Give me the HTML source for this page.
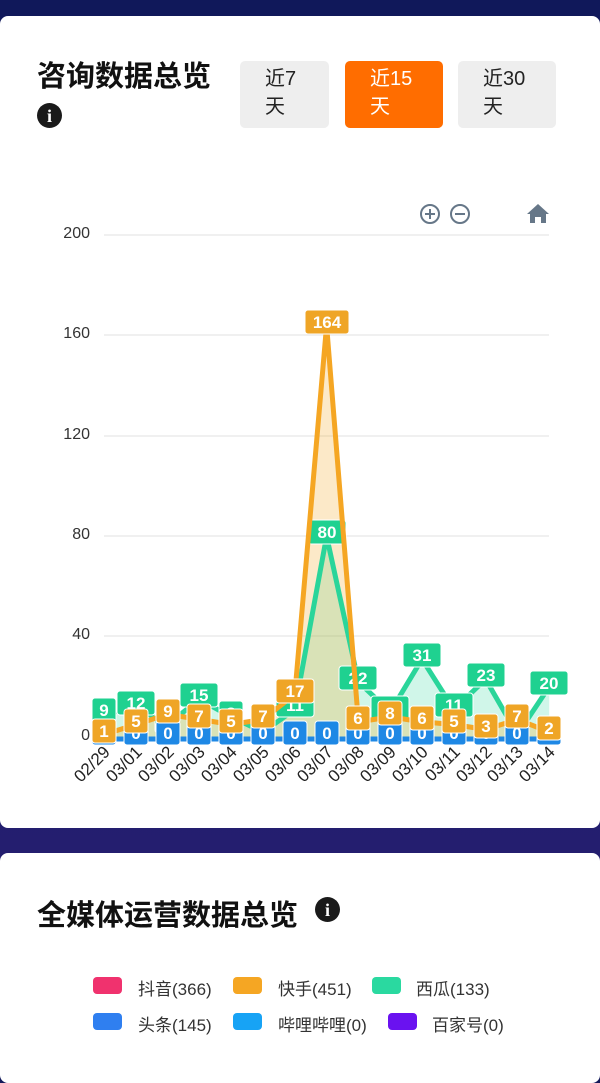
<!DOCTYPE html>
<html><head><meta charset="utf-8"><style>
body{margin:0;width:600px;height:1067px;overflow:hidden;background:#141a5a;font-family:"Liberation Sans","Noto Sans CJK SC",sans-serif;position:relative}
.bg{position:absolute;inset:0;background:linear-gradient(180deg,#10185a 0%,#1e1d6e 60%,#2a2070 100%)}
.card{position:absolute;left:0;width:600px;background:#fff;border-radius:8px}
.t1{position:absolute;left:37px;top:53px;font-size:29px;font-weight:bold;color:#111}
.btn{position:absolute;top:61px;height:67px;border-radius:5px;background:#eee;font-size:20px;color:#222;box-sizing:border-box;padding:4px 0 0 25px;line-height:28px}
.info{position:absolute;width:25px;height:25px;border-radius:50%;background:#1a1a1a;color:#fff;font:bold 18px "Liberation Serif",serif;text-align:center;line-height:26px}
.lg{position:absolute;font-size:17px;color:#333}
.sw{position:absolute;width:29px;height:17px;border-radius:4px}
</style></head><body>
<div class="bg"></div>
<div class="card" style="top:16px;height:812px"></div>
<div class="t1">咨询数据总览</div>
<div class="info" style="left:37px;top:103px">i</div>
<div class="btn" style="left:240px;width:89px">近7<br>天</div>
<div class="btn" style="left:345px;width:98px;background:#ff6d00;color:#fff">近15<br>天</div>
<div class="btn" style="left:458px;width:98px">近30<br>天</div>
<svg style="position:absolute;left:0;top:0" width="600" height="830">
<g fill="none" stroke="#667788" stroke-width="2"><circle cx="430" cy="214" r="9"/><circle cx="460" cy="214" r="9"/><path d="M425 214h10M430 209v10M455 214h10"/></g>
<path d="M538 204l-11 10h3v9h5v-6h6v6h5v-9h3z" fill="#667788"/>
<g stroke="#e0e0e0" stroke-width="1"><path d="M104 235H549M104 335H549M104 436H549M104 536H549M104 636H549M104 737H549"/></g>
<g font-size="16" fill="#333" text-anchor="end"><text x="90" y="238">200</text><text x="90" y="338">160</text><text x="90" y="439">120</text><text x="90" y="539">80</text><text x="90" y="639">40</text><text x="90" y="740">0</text></g>
<polygon fill="rgba(42,213,154,0.22)" points="104,737 104,714.4 135.8,706.9 167.6,724.5 199.4,699.4 231.2,716.9 263,732 294.8,709.4 326.6,536.2 358.4,681.8 390.2,711.9 422,659.2 453.8,709.4 485.6,679.3 517.4,734.5 549.2,686.8 549.2,737"/>
<polygon fill="rgba(245,166,35,0.25)" points="104,737 104,734.5 135.8,724.5 167.6,714.4 199.4,719.4 231.2,724.5 263,719.4 294.8,694.3 326.6,325.4 358.4,721.9 390.2,716.9 422,721.9 453.8,724.5 485.6,729.5 517.4,719.4 549.2,732 549.2,737"/>
<polyline fill="none" stroke="#2ad59a" stroke-width="5" stroke-linejoin="round" points="104,714.4 135.8,706.9 167.6,724.5 199.4,699.4 231.2,716.9 263,732 294.8,709.4 326.6,536.2 358.4,681.8 390.2,711.9 422,659.2 453.8,709.4 485.6,679.3 517.4,734.5 549.2,686.8"/>
<g font-size="17" font-weight="bold" fill="#fff" text-anchor="middle">
<g fill="#1fd190" stroke="#fff" stroke-width="1">
<rect x="92" y="698" width="24" height="24" rx="3"/><rect x="117" y="691" width="38" height="24" rx="3"/><rect x="155" y="709" width="24" height="24" rx="3"/><rect x="180" y="683" width="38" height="24" rx="3"/><rect x="219" y="701" width="24" height="24" rx="3"/><rect x="251" y="716" width="24" height="24" rx="3"/><rect x="276" y="693" width="38" height="24" rx="3"/><rect x="308" y="520" width="38" height="24" rx="3"/><rect x="339" y="666" width="38" height="24" rx="3"/><rect x="371" y="696" width="38" height="24" rx="3"/><rect x="403" y="643" width="38" height="24" rx="3"/><rect x="435" y="693" width="38" height="24" rx="3"/><rect x="467" y="663" width="38" height="24" rx="3"/><rect x="505" y="718" width="24" height="24" rx="3"/><rect x="530" y="671" width="38" height="24" rx="3"/></g>
<text x="104" y="716">9</text><text x="136" y="709">12</text><text x="168" y="727">5</text><text x="199" y="701">15</text><text x="231" y="719">8</text><text x="263" y="734">2</text><text x="295" y="711">11</text><text x="327" y="538">80</text><text x="358" y="684">22</text><text x="390" y="714">10</text><text x="422" y="661">31</text><text x="454" y="711">11</text><text x="486" y="681">23</text><text x="517" y="736">1</text><text x="549" y="689">20</text>
</g>
<path d="M96 739H553" stroke="#1e88e5" stroke-width="5"/>
<g font-size="17" font-weight="bold" fill="#fff" text-anchor="middle">
<g fill="#1e88e5" stroke="#fff" stroke-width="1">
<rect x="92" y="721" width="24" height="24" rx="3"/><rect x="124" y="721" width="24" height="24" rx="3"/><rect x="156" y="721" width="24" height="24" rx="3"/><rect x="187" y="721" width="24" height="24" rx="3"/><rect x="219" y="721" width="24" height="24" rx="3"/><rect x="251" y="721" width="24" height="24" rx="3"/><rect x="283" y="721" width="24" height="24" rx="3"/><rect x="315" y="721" width="24" height="24" rx="3"/><rect x="346" y="721" width="24" height="24" rx="3"/><rect x="378" y="721" width="24" height="24" rx="3"/><rect x="410" y="721" width="24" height="24" rx="3"/><rect x="442" y="721" width="24" height="24" rx="3"/><rect x="474" y="721" width="24" height="24" rx="3"/><rect x="505" y="721" width="24" height="24" rx="3"/><rect x="537" y="721" width="24" height="24" rx="3"/></g>
<text x="104" y="739">0</text><text x="136" y="739">0</text><text x="168" y="739">0</text><text x="199" y="739">0</text><text x="231" y="739">0</text><text x="263" y="739">0</text><text x="295" y="739">0</text><text x="327" y="739">0</text><text x="358" y="739">0</text><text x="390" y="739">0</text><text x="422" y="739">0</text><text x="454" y="739">0</text><text x="486" y="739">0</text><text x="517" y="739">0</text><text x="549" y="739">0</text>
</g>
<polyline fill="none" stroke="#f5a623" stroke-width="5" stroke-linejoin="round" points="104,734.5 135.8,724.5 167.6,714.4 199.4,719.4 231.2,724.5 263,719.4 294.8,694.3 326.6,325.4 358.4,721.9 390.2,716.9 422,721.9 453.8,724.5 485.6,729.5 517.4,719.4 549.2,732"/>
<g font-size="17" font-weight="bold" fill="#fff" text-anchor="middle">
<g fill="#efa526" stroke="#fff" stroke-width="1">
<rect x="92" y="719" width="24" height="24" rx="3"/><rect x="124" y="709" width="24" height="24" rx="3"/><rect x="156" y="699" width="24" height="24" rx="3"/><rect x="187" y="704" width="24" height="24" rx="3"/><rect x="219" y="709" width="24" height="24" rx="3"/><rect x="251" y="704" width="24" height="24" rx="3"/><rect x="276" y="679" width="38" height="24" rx="3"/><rect x="305" y="310" width="44" height="24" rx="3"/><rect x="346" y="706" width="24" height="24" rx="3"/><rect x="378" y="701" width="24" height="24" rx="3"/><rect x="410" y="706" width="24" height="24" rx="3"/><rect x="442" y="709" width="24" height="24" rx="3"/><rect x="474" y="714" width="24" height="24" rx="3"/><rect x="505" y="704" width="24" height="24" rx="3"/><rect x="537" y="716" width="24" height="24" rx="3"/></g>
<text x="104" y="737">1</text><text x="136" y="727">5</text><text x="168" y="717">9</text><text x="199" y="722">7</text><text x="231" y="727">5</text><text x="263" y="722">7</text><text x="295" y="697">17</text><text x="327" y="328">164</text><text x="358" y="724">6</text><text x="390" y="719">8</text><text x="422" y="724">6</text><text x="454" y="727">5</text><text x="486" y="732">3</text><text x="517" y="722">7</text><text x="549" y="734">2</text>
</g>
<g font-size="17" fill="#222" text-anchor="end">
<text transform="translate(111,753) rotate(-45)">02/29</text><text transform="translate(143,753) rotate(-45)">03/01</text><text transform="translate(175,753) rotate(-45)">03/02</text><text transform="translate(206,753) rotate(-45)">03/03</text><text transform="translate(238,753) rotate(-45)">03/04</text><text transform="translate(270,753) rotate(-45)">03/05</text><text transform="translate(302,753) rotate(-45)">03/06</text><text transform="translate(334,753) rotate(-45)">03/07</text><text transform="translate(365,753) rotate(-45)">03/08</text><text transform="translate(397,753) rotate(-45)">03/09</text><text transform="translate(429,753) rotate(-45)">03/10</text><text transform="translate(461,753) rotate(-45)">03/11</text><text transform="translate(493,753) rotate(-45)">03/12</text><text transform="translate(524,753) rotate(-45)">03/13</text><text transform="translate(556,753) rotate(-45)">03/14</text>
</g>
</svg>
<div class="card" style="top:853px;height:230px"></div>
<div class="t1" style="top:892px">全媒体运营数据总览</div>
<div class="info" style="left:315px;top:897px">i</div>
<div class="sw" style="left:93px;top:977px;background:#f0326e"></div><div class="lg" style="left:138px;top:975px">抖音(366)</div>
<div class="sw" style="left:233px;top:977px;background:#f5a623"></div><div class="lg" style="left:278px;top:975px">快手(451)</div>
<div class="sw" style="left:372px;top:977px;background:#2ad9a0"></div><div class="lg" style="left:416px;top:975px">西瓜(133)</div>
<div class="sw" style="left:93px;top:1013px;background:#2f7ff0"></div><div class="lg" style="left:138px;top:1011px">头条(145)</div>
<div class="sw" style="left:233px;top:1013px;background:#17a3f5"></div><div class="lg" style="left:278px;top:1011px">哔哩哔哩(0)</div>
<div class="sw" style="left:388px;top:1013px;background:#6a12f0"></div><div class="lg" style="left:432px;top:1011px">百家号(0)</div>
</body></html>
